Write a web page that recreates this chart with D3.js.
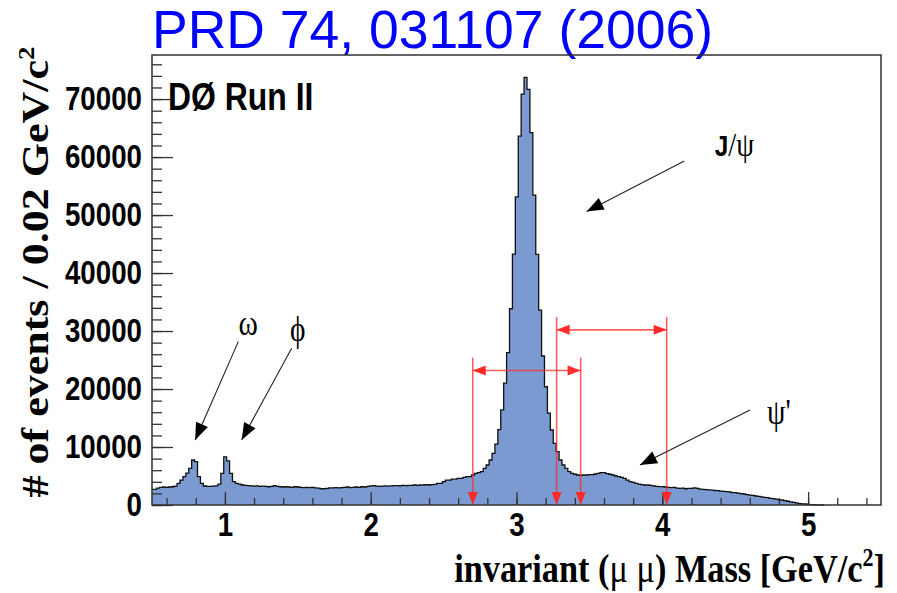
<!DOCTYPE html>
<html>
<head>
<meta charset="utf-8">
<script src="https://cdn.jsdelivr.net/npm/d3@7"></script>
<style>
body { margin: 0; background: #fff; }
</style>
</head>
<body>
<div id="chart"></div>
<script>
// histogram: 0.02 GeV bins (edges)
const binStart = 0.512;
const binWidth = 0.02;
const counts = [
  2700, 2900, 3050, 3100, 3050, 3100, 3150, 3250, 3740, 4300,
  4880, 5500, 6330, 7760, 7470, 4880, 3740, 3280, 3200, 3200,
  3250, 3300, 3600, 5460, 8300, 7600, 5460, 4020, 3740, 3600,
  3450, 3400, 3350, 3300, 3250, 3300, 3200, 3250, 3200, 3150,
  3200, 3350, 3200, 3150, 3100, 3150, 3100, 3050, 3150, 3100,
  3050, 3000, 3050, 3000, 3050, 2950, 2900, 2800, 2800, 2850,
  2950, 2950, 3000, 2950, 3000, 3050, 3100, 3000, 3050, 3100,
  3050, 3150, 3100, 3200, 3300, 3350, 3250, 3200, 3250, 3300,
  3250, 3300, 3350, 3350, 3300, 3400, 3350, 3400, 3400, 3450,
  3400, 3450, 3450, 3500, 3450, 3500, 3550, 3740, 3740, 4020,
  4300, 4300, 4450, 4450, 4600, 4600, 4750, 4880, 4900, 5170,
  5460, 5600, 5750, 6320, 6900, 7760, 8910, 10500, 13000, 16400,
  21000, 26260, 33840, 43270, 53150, 63600, 70860, 73740, 71670, 64200,
  53450, 43220, 33620, 25690, 20390, 15860, 12930, 10640, 9190, 7760,
  6900, 6320, 5750, 5460, 5300, 5170, 5100, 5170, 5170, 5250,
  5250, 5350, 5460, 5570, 5570, 5400, 5300, 5170, 5000, 4880,
  4750, 4600, 4300, 4020, 3900, 3740, 3600, 3500, 3450, 3450,
  3400, 3300, 3200, 3160, 3160, 3100, 3050, 3000, 3050, 2900,
  2870, 2900, 2800, 2870, 2870, 2950, 2870, 2750, 2700, 2650,
  2600, 2550, 2500, 2470, 2400, 2350, 2300, 2250, 2150, 2130,
  2050, 1950, 1900, 1800, 1720, 1650, 1550, 1500, 1400, 1300,
  1260, 1150, 1100, 1000, 900, 860, 750, 650, 550, 450,
  350, 250, 200, 170, 120, 80, 50, 20, 10, 0
];
const xMajor = [1, 2, 3, 4, 5];
const xMinor = d3.range(3, 28).map(i => +(i * 0.2).toFixed(1));
const yMajor = [0, 10000, 20000, 30000, 40000, 50000, 60000, 70000];
const yMinor = d3.range(0, 39).map(i => i * 2000);

// mass windows (red lines): [low, high, line top, arrow level]
const windowA = [2.70, 3.44, 25400, 23200];
const windowB = [3.275, 4.03, 32400, 30200];

// peak labels: [text, label x, label y, arrow from x, from y, tip x, tip y]
const peakLabels = [
  ["ω", 1.16, 29300, 1.092, 28170, 0.796, 11200],
  ["ϕ", 1.50, 28300, 1.458, 27030, 1.115, 11200],
  ["ψ'", 4.80, 13900, 4.602, 16390, 3.847, 6900]
];

// graph's dimension
var margin = {top: 55, bottom: 88, right: 16, left: 152};
var width = 897 - margin.left - margin.right;
var height = 593 - margin.top - margin.bottom;
var sq = 0.84; // horizontal squeeze of the original figure's text

var svg = d3.select('#chart')
  .append("svg")
  .attr("width", 897)
  .attr("height", 593);

svg.append("rect").attr("width", 897).attr("height", 593).attr("fill", "#fff");

// title
svg.append("text")
  .attr("x", 152).attr("y", 48)
  .style("font-family", "'Liberation Sans', Arial, sans-serif")
  .style("font-size", "53.5px")
  .attr("fill", "#0000ff")
  .text("PRD 74, 031107 (2006)");

var g = svg.append("g")
  .attr("transform", "translate(" + margin.left + "," + margin.top + ")");

var x = d3.scaleLinear().domain([0.5, 5.5]).range([0, width]);
var y = d3.scaleLinear().domain([0, 77600]).range([height, 0]);

// histogram
var pts = counts.map((c, i) => [binStart + i * binWidth, c]);
pts.unshift([0.5, counts[0]]);
pts.push([binStart + counts.length * binWidth, 0]);

var area = d3.area()
  .curve(d3.curveStepAfter)
  .x(d => x(d[0]))
  .y0(y(0))
  .y1(d => y(d[1]));
var line = d3.line()
  .curve(d3.curveStepAfter)
  .x(d => x(d[0]))
  .y(d => y(d[1]));

g.append("path").datum(pts)
  .attr("d", area)
  .attr("fill", "#7b9ad2");
g.append("path").datum(pts)
  .attr("d", line)
  .attr("fill", "none")
  .attr("stroke", "#111")
  .attr("stroke-width", 1.3);

// axes
var tickCol = "#333";
var xMinAx = g.append("g").attr("transform", "translate(0," + height + ")")
  .call(d3.axisBottom(x).tickValues(xMinor).tickSize(-7).tickFormat(""));
var xAx = g.append("g").attr("transform", "translate(0," + height + ")")
  .call(d3.axisBottom(x).tickValues(xMajor).tickSize(-13).tickPadding(8).tickFormat(d3.format("d")));
var yMinAx = g.append("g")
  .call(d3.axisLeft(y).tickValues(yMinor).tickSize(-10).tickFormat(""));
var yAx = g.append("g")
  .call(d3.axisLeft(y).tickValues(yMajor).tickSize(-21).tickPadding(10).tickFormat(d3.format("d")));

[xMinAx, xAx, yMinAx, yAx].forEach(a => {
  a.select(".domain").remove();
  a.selectAll("line").attr("stroke", tickCol).attr("stroke-width", 1.3);
});
[xAx, yAx].forEach(a => {
  a.selectAll("text")
    .style("font-family", "'Liberation Sans', Arial, sans-serif")
    .style("font-weight", "bold")
    .style("font-size", "33px")
    .attr("fill", "#000");
});
xAx.selectAll("text").attr("transform", "scale(" + sq + ",1)");
yAx.selectAll("text").attr("transform", "scale(" + sq + ",1)").attr("x", -10 / sq);

// frame
g.append("rect")
  .attr("width", width).attr("height", height)
  .attr("fill", "none").attr("stroke", tickCol).attr("stroke-width", 1.5);

// arrow heads
function head(sel, x1, y1, x2, y2, len, wid, col) {
  var a = Math.atan2(y2 - y1, x2 - x1);
  var bx = x2 - len * Math.cos(a), by = y2 - len * Math.sin(a);
  var px = -Math.sin(a) * wid / 2, py = Math.cos(a) * wid / 2;
  sel.append("polygon")
    .attr("points", [[x2, y2], [bx + px, by + py], [bx - px, by - py]].map(p => p.join(",")).join(" "))
    .attr("fill", col);
}

// red mass windows
var red = "#ff2a2a";
[windowA, windowB].forEach(w => {
  [w[0], w[1]].forEach(m => {
    g.append("line")
      .attr("x1", x(m)).attr("x2", x(m))
      .attr("y1", y(w[2])).attr("y2", y(0) - 4)
      .attr("stroke", red).attr("stroke-opacity", 0.75).attr("stroke-width", 1.6);
    head(g, x(m), y(w[2]), x(m), y(0), 13, 10, red);
  });
  g.append("line")
    .attr("x1", x(w[0])).attr("x2", x(w[1]))
    .attr("y1", y(w[3])).attr("y2", y(w[3]))
    .attr("stroke", red).attr("stroke-opacity", 0.75).attr("stroke-width", 1.6);
  head(g, x(w[1]), y(w[3]), x(w[0]), y(w[3]), 13, 10, red);
  head(g, x(w[0]), y(w[3]), x(w[1]), y(w[3]), 13, 10, red);
});

// peak labels and black arrows
peakLabels.forEach(p => {
  g.append("line")
    .attr("x1", x(p[3])).attr("y1", y(p[4]))
    .attr("x2", x(p[5])).attr("y2", y(p[6]))
    .attr("stroke", "#222").attr("stroke-width", 1.1);
  head(g, x(p[3]), y(p[4]), x(p[5]), y(p[6]), 17, 13, "#000");
  g.append("text")
    .attr("transform", "translate(" + x(p[1]) + "," + y(p[2]) + ") scale(" + sq + ",1)")
    .attr("text-anchor", "middle")
    .style("font-family", "'Liberation Serif', 'Times New Roman', serif")
    .style("font-size", "35px")
    .text(p[0]);
});

// J/psi
g.append("line")
  .attr("x1", x(4.151)).attr("y1", y(59340))
  .attr("x2", x(3.481)).attr("y2", y(50600))
  .attr("stroke", "#222").attr("stroke-width", 1.1);
head(g, x(4.151), y(59340), x(3.481), y(50600), 17, 13, "#000");
var jp = g.append("text")
  .attr("transform", "translate(" + x(4.36) + "," + y(60200) + ") scale(" + sq + ",1)");
jp.append("tspan")
  .style("font-family", "'Liberation Sans', Arial, sans-serif")
  .style("font-weight", "bold")
  .style("font-size", "29px")
  .text("J");
jp.append("tspan")
  .style("font-family", "'Liberation Serif', 'Times New Roman', serif")
  .style("font-size", "34px")
  .text("/ψ");

// experiment label
g.append("text")
  .attr("transform", "translate(" + x(0.61) + "," + y(68140) + ") scale(" + sq + ",1)")
  .style("font-family", "'Liberation Sans', Arial, sans-serif")
  .style("font-weight", "bold")
  .style("font-size", "38px")
  .text("DØ Run II");

// axis titles
var xt = svg.append("text")
  .attr("transform", "translate(885,582) scale(0.88,1)")
  .attr("text-anchor", "end")
  .style("font-family", "'Liberation Serif', 'Times New Roman', serif")
  .style("font-weight", "bold")
  .style("font-size", "39px");
xt.append("tspan").text("invariant (");
xt.append("tspan").style("font-weight", "normal").text("μ μ");
xt.append("tspan").text(") Mass [GeV/c");
xt.append("tspan").attr("dy", -16).style("font-size", "25px").text("2");
xt.append("tspan").attr("dy", 16).text("]");

var yt = svg.append("text")
  .attr("transform", "translate(48,272) scale(" + sq + ",1) rotate(-90)")
  .attr("text-anchor", "middle")
  .style("font-family", "'Liberation Serif', 'Times New Roman', serif")
  .style("font-weight", "bold")
  .style("font-size", "44px");
yt.append("tspan").text("# of events / 0.02 GeV/c");
yt.append("tspan").attr("dy", -17).style("font-size", "27px").text("2");
</script>
</body>
</html>
